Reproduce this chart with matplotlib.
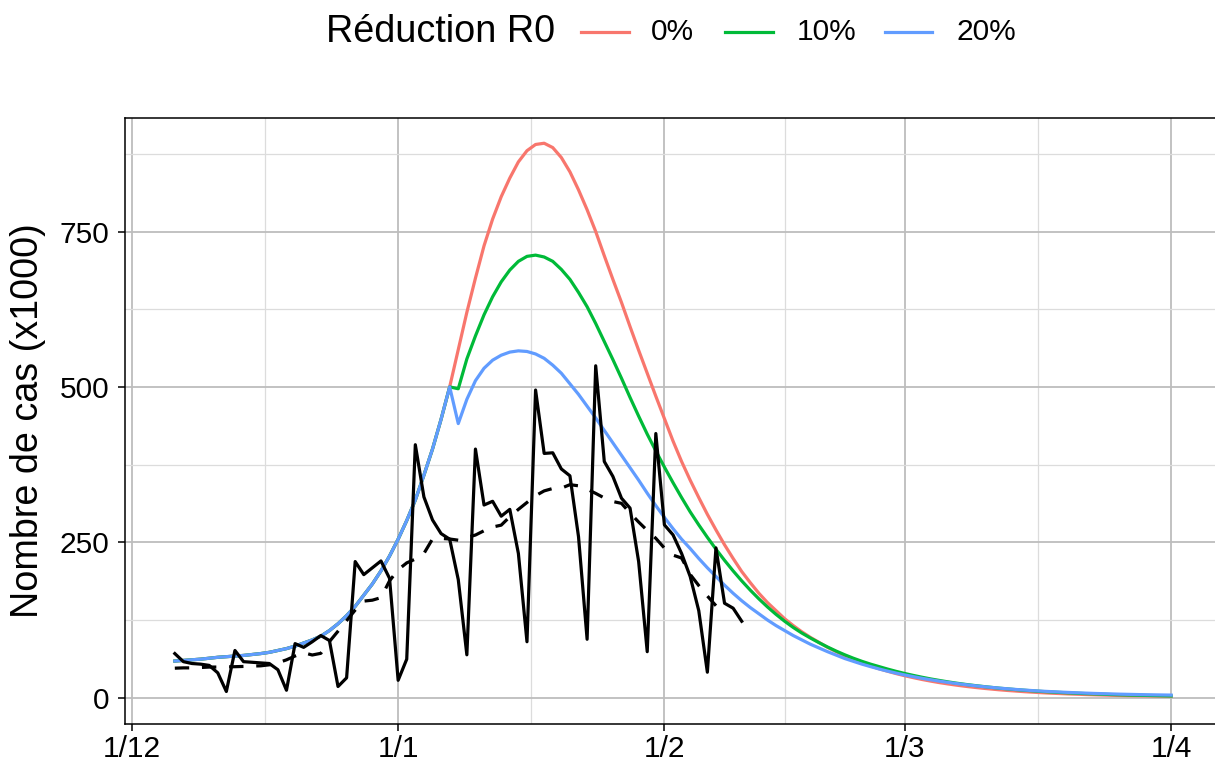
import numpy as np
import pandas as pd
import matplotlib
matplotlib.use("Agg")
import matplotlib.pyplot as plt
import matplotlib.dates as mdates
from matplotlib.lines import Line2D

# ---------------- data ----------------
debut = "2021-12-06"

cas_observes = [71, 58, 55, 54, 52, 40, 10,
                76, 58, 57, 56, 55, 45, 12,
                87, 81, 90, 100, 92, 18, 32,
                219, 198, 209, 220, 192, 28, 62,
                407, 323, 286, 264, 255, 190, 69,
                400, 310, 316, 292, 303, 232, 90,
                495, 393, 394, 368, 357, 259, 94,
                534, 380, 356, 321, 305, 219, 74,
                425, 278, 262, 232, 195, 140, 41,
                241, 152, 144, 123]

moyenne_7j = [47.5, 48, 48, 48.6, 49.3, 49.3, 49.6, 49.9, 50.3, 50.9,
              51.3, 52.9, 56.1, 60.9, 67.1, 72.4, 68.7, 71.4, 90.3, 107,
              124, 141, 155.4, 156.9, 161, 188, 205.9, 216.9, 223, 232,
              255.3, 256.3, 255.3, 253.4, 257.7, 261.7, 268.6, 274.6, 277.6, 291.1,
              303, 314.1, 325, 332.7, 336.6, 337.1, 342.7, 340.9, 335.4, 328.7,
              321.3, 315.6, 312.7, 297.1, 282.6, 269.1, 256.4, 240.7, 229.4, 224.7,
              198.4, 180.4, 163.6, 148]

modele_historique = [59, 60, 61, 62, 63.5, 65, 66, 67, 68, 69.5,
                     71, 73, 76, 79, 83, 88, 93, 99, 108, 119,
                     132, 147, 165, 183, 204, 228, 255, 285, 318, 358,
                     400, 448, 500]

proj_0 = [500, 560, 620, 675, 727, 770, 806, 836, 862, 880,
          890, 892, 885, 869, 846, 817, 785, 750, 711, 673,
          636, 597, 559, 522, 485, 449, 413, 380, 350, 322,
          295, 270, 246, 224, 203, 185, 168, 153, 140, 127,
          116, 106, 97, 89, 81, 74, 67, 61, 56, 51,
          46.5, 42.5, 38.7, 35.3, 32.2, 29.3, 26.7, 24.3, 22.2, 20.2,
          18.4, 16.8, 15.3, 14.0, 12.7, 11.6, 10.6, 9.6, 8.8, 8.0,
          7.3, 6.7, 6.1, 5.6, 5.1, 4.7, 4.3, 3.9, 3.6, 3.3,
          3.1, 2.9, 2.7, 2.5, 2.4]

proj_10 = [500, 497, 545, 582, 616, 645, 669, 688, 702, 710,
           712, 709, 702, 689, 673, 652, 629, 602, 573, 544,
           514, 483, 453, 424, 397, 371, 346, 322, 299, 278,
           258, 239, 221, 204, 188, 173, 159, 146, 134, 123,
           113, 104, 96, 88.5, 81.5, 75, 69, 63.5, 58.5, 54,
           50, 46, 42.3, 38.9, 35.8, 32.9, 30.2, 27.8, 25.5, 23.4,
           21.5, 19.8, 18.2, 16.7, 15.3, 14.1, 12.9, 11.9, 10.9, 10.0,
           9.2, 8.5, 7.8, 7.2, 6.6, 6.1, 5.6, 5.1, 4.7, 4.3,
           4.0, 3.7, 3.4, 3.1, 2.8]

proj_20 = [500, 441, 480, 510, 530, 543, 551, 556, 558, 557,
           553, 546, 535, 522, 505, 488, 469, 450, 430, 410,
           390, 370, 350, 329, 309, 290, 272, 255, 240, 224,
           209, 195, 181, 168, 156, 145, 135, 125, 116, 108,
           100, 93, 86, 80, 74, 68.5, 63, 58.5, 54, 50,
           46.2, 42.7, 39.5, 36.5, 33.8, 31.2, 28.9, 26.7, 24.7, 22.8,
           21.1, 19.5, 18.0, 16.7, 15.4, 14.3, 13.2, 12.2, 11.3, 10.5,
           9.8, 9.1, 8.5, 7.9, 7.4, 6.9, 6.5, 6.1, 5.7, 5.4,
           5.1, 4.8, 4.6, 4.4, 4.2]

scenarios = ["0%", "10%", "20%"]
couleurs = ["#F8766D", "#00BA38", "#619CFF"]

tick_dates = ["2021-12-01", "2022-01-01", "2022-02-01", "2022-03-01", "2022-04-01"]
tick_labels = ["1/12", "1/1", "1/2", "1/3", "1/4"]
y_ticks = [0, 250, 500, 750]

titre_legende = "Réduction R0"
titre_y = "Nombre de cas (x1000)"

# ---------------- figure ----------------
plt.rcParams["font.family"] = ["Liberation Sans", "DejaVu Sans"]

W, H = 1215, 768
fig = plt.figure(figsize=(W / 100, H / 100), dpi=100)
ax = fig.add_axes([125 / W, 44 / H, 1096 / W, 606 / H])

projections = [proj_0, proj_10, proj_20]
for proj, col in zip(projections, couleurs):
    serie = modele_historique + proj[1:]
    dates = pd.date_range(debut, periods=len(serie), freq="D")
    ax.plot(dates, serie, color=col, lw=2.3, solid_joinstyle="round", zorder=3)

dates_obs = pd.date_range(debut, periods=len(cas_observes), freq="D")
ax.plot(dates_obs, cas_observes, color="black", lw=2.3, zorder=4)
dates_moy = pd.date_range(debut, periods=len(moyenne_7j), freq="D")
ax.plot(dates_moy, moyenne_7j, color="black", lw=2.3, ls=(0, (4.5, 4.0)), zorder=4)

# axes limits (ggplot-like 5% expansion)
d0 = mdates.date2num(pd.Timestamp(debut))
d1 = mdates.date2num(pd.Timestamp("2022-04-01"))
ext = (d1 - d0) * 0.05
ax.set_xlim(d0 - ext, d1 + ext)
ax.set_ylim(-42.3, 932.6)

tnum = [mdates.date2num(pd.Timestamp(t)) for t in tick_dates]
ax.set_xticks(tnum)
ax.set_xticklabels(tick_labels)
ax.set_xticks([(a + b) / 2 for a, b in zip(tnum[:-1], tnum[1:])], minor=True)
ax.set_yticks(y_ticks)
ax.set_yticks([(a + b) / 2 for a, b in zip(y_ticks[:-1], y_ticks[1:])] + [875], minor=True)

ax.grid(True, which="major", color="#BDBDBD", lw=1.3, zorder=0)
ax.grid(True, which="minor", color="#DCDCDC", lw=0.9, zorder=0)
ax.set_axisbelow(True)

for s in ax.spines.values():
    s.set_color("black")
    s.set_linewidth(1.1)

ax.tick_params(axis="both", which="major", labelsize=21.5, length=5, width=1.1,
               color="black", labelcolor="black")
ax.tick_params(axis="y", which="major", pad=6)
ax.tick_params(axis="x", which="major", pad=3)
ax.tick_params(which="minor", length=0)

fig.text(28 / W, 1 - 421 / H, titre_y, rotation=90, fontsize=27.2,
         ha="center", va="center")

# legend at the top
ly = 1 - 32 / H
fig.text(326 / W, ly, titre_legende, fontsize=27.2, ha="left", va="center")
cles = [(581, 629, 651), (725, 773, 797), (885, 932, 957)]
for (x0, x1, xt), col, lab in zip(cles, couleurs, scenarios):
    fig.add_artist(Line2D([x0 / W, x1 / W], [ly, ly], color=col, lw=2.3,
                          transform=fig.transFigure))
    fig.text(xt / W, ly, lab, fontsize=21.5, ha="left", va="center")

fig.savefig("out.png", dpi=100)
